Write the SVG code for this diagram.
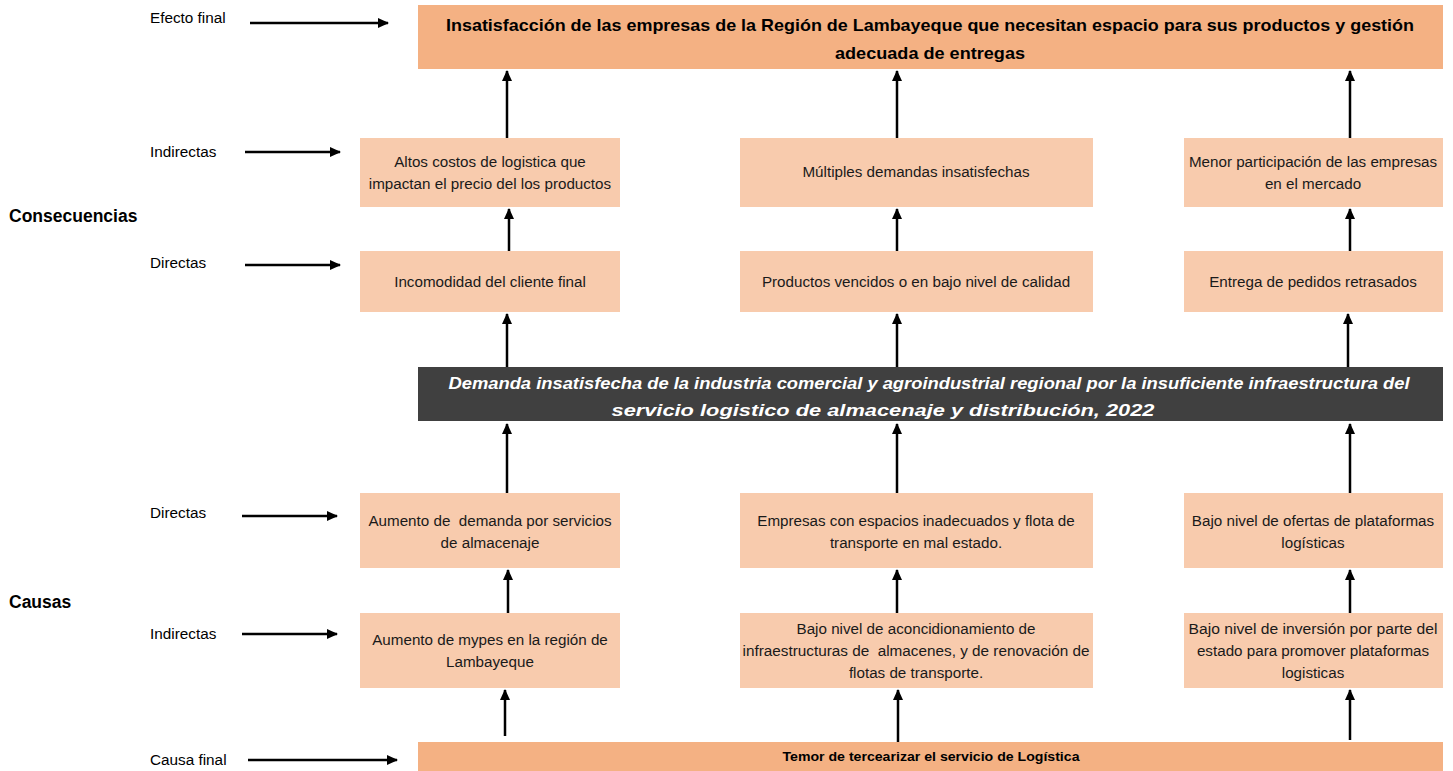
<svg xmlns="http://www.w3.org/2000/svg" width="1453" height="771" viewBox="0 0 1453 771">
<style>
.lbl{font-family:"Liberation Sans",Arial,sans-serif;font-size:15.3px;fill:#000}
.sec{font-family:"Liberation Sans",Arial,sans-serif;font-size:17.5px;font-weight:bold;fill:#000}
.bx{fill:#F8CBAD}
.main{fill:#F4B183}
.t{font-family:"Liberation Sans",Arial,sans-serif;font-size:15.2px;fill:#1a1a1a;text-anchor:middle;white-space:pre}
.tb{font-family:"Liberation Sans",Arial,sans-serif;font-size:17px;font-weight:bold;fill:#000;text-anchor:middle}
.ti{font-family:"Liberation Sans",Arial,sans-serif;font-size:17px;font-weight:bold;font-style:italic;fill:#fff;text-anchor:middle}
.conn line{stroke:#000;stroke-width:2.5;marker-end:url(#ah)}
</style>
<defs>
<marker id="ah" markerWidth="4.4" markerHeight="4" refX="4" refY="2" orient="auto" markerUnits="strokeWidth">
<path d="M0,0 L4.4,2 L0,4 z" fill="#000"/>
</marker>
</defs>
<rect width="1453" height="771" fill="#fff"/>

<g id="labels">
<text class="lbl" x="150" y="23">Efecto final</text>
<text class="lbl" x="150" y="157">Indirectas</text>
<text class="sec" x="9" y="222">Consecuencias</text>
<text class="lbl" x="150" y="268">Directas</text>
<text class="lbl" x="150" y="518">Directas</text>
<text class="sec" x="9" y="608">Causas</text>
<text class="lbl" x="150" y="639">Indirectas</text>
<text class="lbl" x="150" y="765">Causa final</text>
</g>

<g id="efecto-final">
<rect class="main" x="418" y="5" width="1025" height="64"/>
<text class="tb" x="930" y="31" textLength="968" lengthAdjust="spacingAndGlyphs">Insatisfacción de las empresas de la Región de Lambayeque que necesitan espacio para sus productos y gestión</text>
<text class="tb" x="930" y="59" textLength="190" lengthAdjust="spacingAndGlyphs">adecuada de entregas</text>
</g>

<g id="cons-ind-1"><rect class="bx" x="360" y="138" width="260" height="69"/>
<text class="t" x="490" y="167">Altos costos de logistica que</text>
<text class="t" x="490" y="189">impactan el precio del los productos</text></g>
<g id="cons-ind-2"><rect class="bx" x="740" y="138" width="353" height="69"/>
<text class="t" x="916" y="177">Múltiples demandas insatisfechas</text></g>
<g id="cons-ind-3"><rect class="bx" x="1184" y="138" width="259" height="69"/>
<text class="t" x="1313" y="167">Menor participación de las empresas</text>
<text class="t" x="1313" y="189">en el mercado</text></g>

<g id="cons-dir-1"><rect class="bx" x="360" y="251" width="260" height="61"/>
<text class="t" x="490" y="287">Incomodidad del cliente final</text></g>
<g id="cons-dir-2"><rect class="bx" x="740" y="251" width="353" height="61"/>
<text class="t" x="916" y="287">Productos vencidos o en bajo nivel de calidad</text></g>
<g id="cons-dir-3"><rect class="bx" x="1184" y="251" width="259" height="61"/>
<text class="t" x="1313" y="287">Entrega de pedidos retrasados</text></g>

<g id="problema">
<rect x="418" y="367" width="1025" height="54" fill="#404040"/>
<text class="ti" x="929" y="389" textLength="961" lengthAdjust="spacingAndGlyphs">Demanda insatisfecha de la industria comercial y agroindustrial regional por la insuficiente infraestructura del</text>
<text class="ti" x="883" y="416" textLength="543" lengthAdjust="spacingAndGlyphs">servicio logistico de almacenaje y distribución, 2022</text>
</g>

<g id="causa-dir-1"><rect class="bx" x="360" y="493" width="260" height="75"/>
<text class="t" x="490" y="526">Aumento de  demanda por servicios</text>
<text class="t" x="490" y="548">de almacenaje</text></g>
<g id="causa-dir-2"><rect class="bx" x="740" y="493" width="353" height="75"/>
<text class="t" x="916" y="526">Empresas con espacios inadecuados y flota de</text>
<text class="t" x="916" y="548">transporte en mal estado.</text></g>
<g id="causa-dir-3"><rect class="bx" x="1184" y="493" width="259" height="75"/>
<text class="t" x="1313" y="526">Bajo nivel de ofertas de plataformas</text>
<text class="t" x="1313" y="548">logísticas</text></g>

<g id="causa-ind-1"><rect class="bx" x="360" y="613" width="260" height="75"/>
<text class="t" x="490" y="645">Aumento de mypes en la región de</text>
<text class="t" x="490" y="667">Lambayeque</text></g>
<g id="causa-ind-2"><rect class="bx" x="740" y="613" width="353" height="75"/>
<text class="t" x="916" y="634">Bajo nivel de aconcidionamiento de</text>
<text class="t" x="916" y="656" textLength="347" lengthAdjust="spacingAndGlyphs">infraestructuras de  almacenes, y de renovación de</text>
<text class="t" x="916" y="678">flotas de transporte.</text></g>
<g id="causa-ind-3"><rect class="bx" x="1184" y="613" width="259" height="75"/>
<text class="t" x="1313" y="634" textLength="249" lengthAdjust="spacingAndGlyphs">Bajo nivel de inversión por parte del</text>
<text class="t" x="1313" y="656">estado para promover plataformas</text>
<text class="t" x="1313" y="678">logisticas</text></g>

<g id="causa-final">
<rect class="main" x="418" y="742" width="1025" height="29"/>
<text x="931" y="761" text-anchor="middle" font-family="Liberation Sans, Arial, sans-serif" font-size="13" font-weight="bold" fill="#000" textLength="297" lengthAdjust="spacingAndGlyphs">Temor de tercearizar el servicio de Logística</text>
</g>

<g id="connectors" class="conn">
<line x1="250" y1="23" x2="388" y2="23"/>
<line x1="245" y1="152" x2="340" y2="152"/>
<line x1="245" y1="265" x2="340" y2="265"/>
<line x1="242" y1="516" x2="337" y2="516"/>
<line x1="242" y1="634" x2="337" y2="634"/>
<line x1="248" y1="760" x2="397" y2="760"/>

<line x1="507" y1="138" x2="507" y2="71"/>
<line x1="897" y1="138" x2="897" y2="71"/>
<line x1="1350" y1="138" x2="1350" y2="71"/>

<line x1="509" y1="251" x2="509" y2="209"/>
<line x1="897" y1="251" x2="897" y2="209"/>
<line x1="1350" y1="251" x2="1350" y2="209"/>

<line x1="507" y1="367" x2="507" y2="314"/>
<line x1="897" y1="367" x2="897" y2="314"/>
<line x1="1348" y1="367" x2="1348" y2="314"/>

<line x1="507" y1="493" x2="507" y2="424"/>
<line x1="897" y1="493" x2="897" y2="424"/>
<line x1="1350" y1="493" x2="1350" y2="424"/>

<line x1="508" y1="613" x2="508" y2="570"/>
<line x1="897" y1="613" x2="897" y2="570"/>
<line x1="1350" y1="613" x2="1350" y2="570"/>

<line x1="505" y1="736" x2="505" y2="690"/>
<line x1="898" y1="742" x2="898" y2="690"/>
<line x1="1350" y1="740" x2="1350" y2="690"/>
</g>
</svg>
